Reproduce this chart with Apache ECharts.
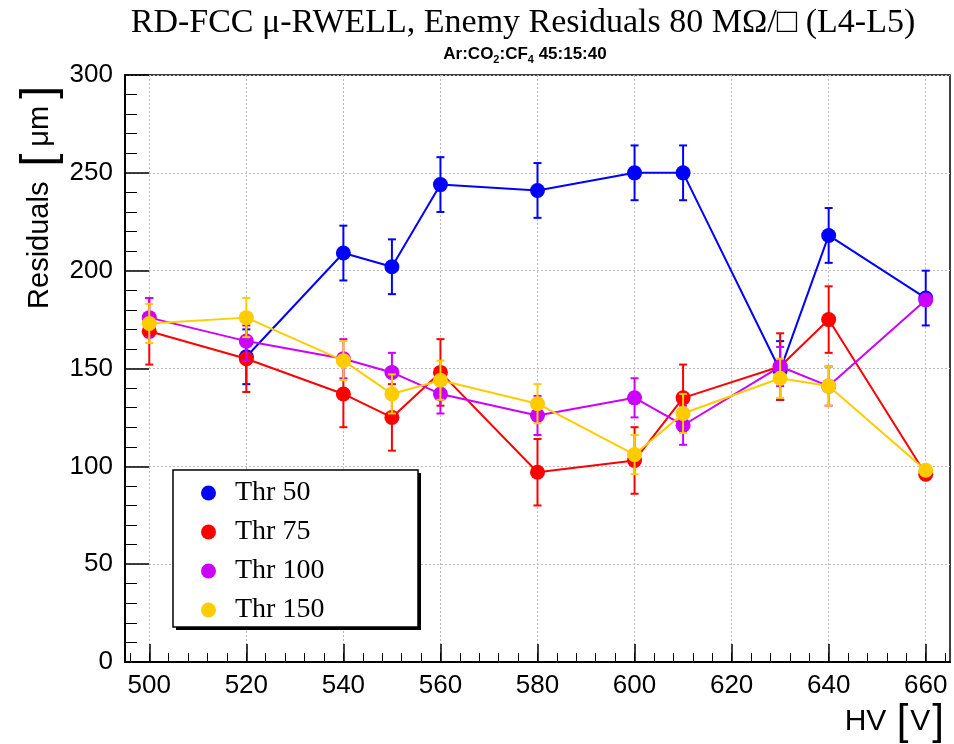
<!DOCTYPE html>
<html>
<head>
<meta charset="utf-8">
<script src="https://cdn.jsdelivr.net/npm/echarts@6/dist/echarts.min.js"></script>
<style>
html, body { margin: 0; padding: 0; background: #fff; }
#chart { width: 954px; height: 744px; }
</style>
</head>
<body>
<div id="chart"></div>
<script>
// HV points [V]
var hv = [500, 520, 540, 550, 560, 580, 600, 610, 630, 640, 660];

// residuals [um] and errors per threshold
var thr50 = [null, 156, 209, 202, 244, 241, 250, 250, 149, 218, 186];
var thr50Err = [null, 14, 14, 14, 14, 14, 14, 14, 15, 14, 14];
var thr75 = [169, 155, 137, 125, 148, 97, 103, 135, 151, 175, 96];
var thr75Err = [17, 17, 17, 17, 17, 17, 17, 17, 17, 17, 0];
var thr100 = [176, 164, 155, 148, 137, 126, 135, 121, 151, 141, 185];
var thr100Err = [10, 10, 10, 10, 10, 10, 10, 10, 10, 10, 0];
var thr150 = [173, 176, 154, 137, 144, 132, 106, 127, 145, 141, 98];
var thr150Err = [10, 10, 10, 10, 10, 10, 10, 10, 10, 10, 0];

var xMajor = [500, 520, 540, 560, 580, 600, 620, 640, 660];
var xMinor = [];
for (var t = 496; t <= 664; t += 4) xMinor.push(t);

var seriesInfo = [
    { name: 'Thr 50', y: thr50, err: thr50Err, color: '#0000ff' },
    { name: 'Thr 75', y: thr75, err: thr75Err, color: '#ff0000' },
    { name: 'Thr 100', y: thr100, err: thr100Err, color: '#cc00ff' },
    { name: 'Thr 150', y: thr150, err: thr150Err, color: '#ffcc00' }
];

function pairs(ys) {
    var out = [];
    for (var i = 0; i < hv.length; i++) {
        out.push(ys[i] == null ? [hv[i], null] : [hv[i], ys[i]]);
    }
    return out;
}

function errData(ys, es) {
    var out = [];
    for (var i = 0; i < hv.length; i++) {
        if (ys[i] == null || !es[i]) continue;
        out.push([hv[i], ys[i] - es[i], ys[i] + es[i]]);
    }
    return out;
}

function errRender(color) {
    return function (params, api) {
        var lo = api.coord([api.value(0), api.value(1)]);
        var hi = api.coord([api.value(0), api.value(2)]);
        var w = 4;
        var st = { stroke: color, lineWidth: 2 };
        return {
            type: 'group',
            children: [
                { type: 'line', shape: { x1: lo[0], y1: lo[1], x2: hi[0], y2: hi[1] }, style: st },
                { type: 'line', shape: { x1: lo[0] - w, y1: lo[1], x2: lo[0] + w, y2: lo[1] }, style: st },
                { type: 'line', shape: { x1: hi[0] - w, y1: hi[1], x2: hi[0] + w, y2: hi[1] }, style: st }
            ]
        };
    };
}

var series = [];
seriesInfo.forEach(function (s, k) {
    series.push({
        type: 'custom',
        name: s.name + ' err',
        renderItem: errRender(s.color),
        data: errData(s.y, s.err),
        z: 2 + k * 2,
        silent: true
    });
    series.push({
        type: 'line',
        name: s.name,
        data: pairs(s.y),
        symbol: 'circle',
        symbolSize: 15,
        connectNulls: false,
        itemStyle: { color: s.color },
        lineStyle: { color: s.color, width: 2 },
        z: 3 + k * 2
    });
});

var chart = echarts.init(document.getElementById('chart'));
chart.setOption({
    animation: false,
    backgroundColor: '#fff',
    grid: { left: 125, right: 4, top: 75, bottom: 82, show: true, borderColor: '#000', borderWidth: 1.5 },
    xAxis: [{
        type: 'value', min: 495, max: 665,
        axisLine: { lineStyle: { color: '#000', width: 2 } },
        axisTick: { customValues: xMajor, inside: true, length: 18, lineStyle: { color: '#000', width: 1.5 } },
        axisLabel: { customValues: xMajor, color: '#000', fontFamily: 'Liberation Sans', fontSize: 26, margin: 11 },
        splitLine: { show: true, lineStyle: { color: '#bbb', type: [2, 2], width: 1 } }
    }, {
        type: 'value', min: 495, max: 665, position: 'bottom',
        axisLine: { show: false },
        axisTick: { customValues: xMinor, inside: true, length: 9, lineStyle: { color: '#000', width: 1 } },
        axisLabel: { show: false },
        splitLine: { show: false }
    }],
    yAxis: {
        type: 'value', min: 0, max: 300, interval: 50,
        axisLine: { show: true, lineStyle: { color: '#000', width: 2 } },
        axisTick: { inside: true, length: 24, lineStyle: { color: '#000', width: 1.5 } },
        minorTick: { show: true, splitNumber: 5, length: 12, lineStyle: { color: '#000', width: 1 } },
        axisLabel: { color: '#000', fontFamily: 'Liberation Sans', fontSize: 26, margin: 12 },
        splitLine: { show: true, lineStyle: { color: '#bbb', type: [2, 2], width: 1 } }
    },
    legend: {
        orient: 'vertical',
        left: 196, top: 474,
        data: ['Thr 50', 'Thr 75', 'Thr 100', 'Thr 150'],
        icon: 'circle',
        itemWidth: 15, itemHeight: 15,
        itemGap: 11,
        textStyle: { fontFamily: 'Liberation Serif', fontSize: 28, color: '#000', lineHeight: 26, padding: [0, 0, 0, 14] },
        z: 20
    },
    graphic: [
        { type: 'rect', z: 10, shape: { x: 176, y: 473, width: 245, height: 157 }, style: { fill: '#000' } },
        { type: 'rect', z: 11, shape: { x: 173, y: 470, width: 245, height: 157 }, style: { fill: '#fff', stroke: '#000', lineWidth: 1.5 } },
        {
            type: 'text', x: 523, y: 23,
            style: { text: 'RD-FCC μ-RWELL, Enemy Residuals 80 MΩ/□ (L4-L5)', textAlign: 'center', textVerticalAlign: 'middle',
                font: '34px "Liberation Serif"', fill: '#000' }
        },
        {
            type: 'text', x: 525, y: 54,
            style: {
                text: '{b|Ar:CO}{s|2}{b|:CF}{s|4}{b| 45:15:40}',
                textAlign: 'center', textVerticalAlign: 'middle',
                rich: {
                    b: { fontFamily: 'Liberation Sans', fontWeight: 'bold', fontSize: 17, lineHeight: 22, color: '#000' },
                    s: { fontFamily: 'Liberation Sans', fontWeight: 'bold', fontSize: 11, lineHeight: 11, verticalAlign: 'bottom', color: '#000' }
                }
            }
        },
        {
            type: 'text', x: 40, y: 194, rotation: Math.PI / 2,
            style: {
                text: '{n|Residuals }{k|[}{n|μm}{k|]}',
                textAlign: 'center', textVerticalAlign: 'middle',
                rich: {
                    n: { fontFamily: 'Liberation Sans', fontSize: 29, color: '#000' },
                    k: { fontFamily: 'Liberation Sans', fontSize: 46, color: '#000', padding: [0, 7, 0, 7] }
                }
            }
        },
        {
            type: 'text', x: 946, y: 722,
            style: {
                text: '{n|HV }{k|[}{n|V}{k|]}',
                textAlign: 'right', textVerticalAlign: 'middle',
                rich: {
                    n: { fontFamily: 'Liberation Sans', fontSize: 30, color: '#000' },
                    k: { fontFamily: 'Liberation Sans', fontSize: 42, color: '#000', padding: [0, 2, 0, 2] }
                }
            }
        }
    ],
    series: series
});
</script>
</body>
</html>
